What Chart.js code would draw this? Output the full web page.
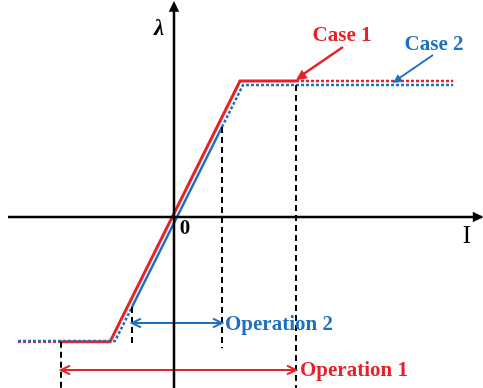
<!DOCTYPE html>
<html>
<head>
<meta charset="utf-8">
<script src="https://cdn.jsdelivr.net/npm/chart.js@4"></script>
<style>
  body { margin: 0; background: #fff; }
  #wrap { width: 483px; height: 388px; position: relative; }
</style>
</head>
<body>
<div id="wrap"><canvas id="myChart"></canvas></div>
<script>
// case 1 (red) : lambda vs I
const case1X = [-2.85, -1.6, 1.65, 3.05]
const case1Y = [-1.56, -1.56, 1.7, 1.7]
const case1DotX = [-3.9, -2.85]
const case1DotY = [-1.56, -1.56]
const case1DotX2 = [3.05, 6.98]
const case1DotY2 = [1.7, 1.7]

// case 2 (blue)
const case2X = [-1.05, 1.2]
const case2Y = [-1.125, 1.125]
const case2DotLowX = [-3.9, -1.475, -1.05]
const case2DotLowY = [-1.55, -1.55, -1.125]
const case2DotHighX = [1.2, 1.725, 6.98]
const case2DotHighY = [1.125, 1.65, 1.65]

// operating limits (dashed guides)
const guideX = [1.2, 3.05, -1.05, -2.825]
const guideTop = [1.125, 1.65, -1.125, -1.56]
const guideBottom = [-1.64, -2.14, -1.625, -2.14]

const op2Range = [-1.05, 1.2]
const op2Level = -1.325
const op1Range = [-2.825, 3.05]
const op1Level = -1.9125

const red = 'rgb(232, 32, 40)'
const blue = 'rgb(30, 112, 192)'

function pts(xs, ys) {
  return xs.map((x, i) => ({ x: x, y: ys[i] }))
}
function line(xs, ys, color, width, dash) {
  return {
    data: pts(xs, ys),
    borderColor: color,
    borderWidth: width,
    borderDash: dash || [],
    pointRadius: 0,
    showLine: true,
    tension: 0,
    fill: false
  }
}

const datasets = []
// axes
datasets.push(line([-4.15, 7.7], [0, 0], '#000', 2.5))
datasets.push(line([0, 0], [-2.14, 2.63], '#000', 2.5))
// guides
guideX.forEach((x, i) => {
  datasets.push(line([x, x], [guideTop[i], guideBottom[i]], '#000', 2, [6, 4]))
})
// arrows between guides
datasets.push(line(op2Range, [op2Level, op2Level], blue, 2))
datasets.push(line(op1Range, [op1Level, op1Level], red, 2))
// curves
datasets.push(line(case2DotLowX, case2DotLowY, blue, 2.5, [3, 2]))
datasets.push(line(case2DotHighX, case2DotHighY, blue, 2.5, [3, 2]))
datasets.push(line(case1DotX, case1DotY, red, 2.5, [3, 2]))
datasets.push(line(case1DotX2, case1DotY2, red, 2.5, [3, 2]))
datasets.push(line(case2X, case2Y, blue, 2.5))
datasets.push(line(case1X, case1Y, red, 3))
// pointer lines for labels
datasets.push(line([4.225, 3.1], [2.125, 1.74], red, 2.5))
datasets.push(line([6.475, 5.5], [2.025, 1.69], blue, 2))

function head(ctx, x1, y1, x2, y2, color, len, open) {
  const a = Math.atan2(y2 - y1, x2 - x1)
  ctx.save()
  ctx.strokeStyle = color
  ctx.fillStyle = color
  ctx.lineWidth = 2
  ctx.beginPath()
  ctx.moveTo(x2 - len * Math.cos(a - 0.45), y2 - len * Math.sin(a - 0.45))
  ctx.lineTo(x2, y2)
  ctx.lineTo(x2 - len * Math.cos(a + 0.45), y2 - len * Math.sin(a + 0.45))
  if (open) ctx.stroke()
  else { ctx.closePath(); ctx.fill() }
  ctx.restore()
}

const decor = {
  id: 'decor',
  afterDatasetsDraw(chart) {
    const ctx = chart.ctx
    const sx = chart.scales.x, sy = chart.scales.y
    const px = v => sx.getPixelForValue(v)
    const py = v => sy.getPixelForValue(v)
    // axis arrowheads
    head(ctx, px(6), py(0), px(7.74), py(0), '#000', 12)
    head(ctx, px(0), py(2), px(0), py(2.7), '#000', 12)
    // double arrows
    head(ctx, px(op2Range[1]), py(op2Level), px(op2Range[0]), py(op2Level), blue, 10, true)
    head(ctx, px(op2Range[0]), py(op2Level), px(op2Range[1]), py(op2Level), blue, 10, true)
    head(ctx, px(op1Range[1]), py(op1Level), px(op1Range[0]), py(op1Level), red, 10, true)
    head(ctx, px(op1Range[0]), py(op1Level), px(op1Range[1]), py(op1Level), red, 10, true)
    // label pointers
    head(ctx, px(4.225), py(2.125), px(3.05), py(1.71), red, 12)
    head(ctx, px(6.475), py(2.025), px(5.475), py(1.675), blue, 10)

    ctx.save()
    ctx.textBaseline = 'middle'
    ctx.font = 'bold 21px "Liberation Serif", serif'
    ctx.fillStyle = red
    ctx.textAlign = 'center'
    ctx.fillText('Case 1', 342, 36)
    ctx.fillStyle = blue
    ctx.fillText('Case 2', 434, 45)
    ctx.textAlign = 'left'
    ctx.fillText('Operation 2', 225, 325)
    ctx.fillStyle = red
    ctx.fillText('Operation 1', 300, 371)
    ctx.fillStyle = '#000'
    ctx.textAlign = 'center'
    ctx.font = 'italic bold 23px "Liberation Serif", serif'
    ctx.fillText('λ', 159, 29)
    ctx.font = 'bold 21px "Liberation Serif", serif'
    ctx.fillText('0', 185, 229)
    ctx.font = '25px "Liberation Serif", serif'
    ctx.fillText('I', 467, 236)
    ctx.restore()
  }
}

const config = {
  type: 'scatter',
  data: { datasets: datasets },
  options: {
    responsive: true,
    maintainAspectRatio: false,
    animation: false,
    layout: { padding: 0 },
    plugins: { legend: { display: false }, tooltip: { enabled: false } },
    scales: {
      x: { type: 'linear', min: -4.35, max: 7.725, display: false },
      y: { type: 'linear', min: -2.1375, max: 2.7125, display: false }
    }
  },
  plugins: [decor]
}
const myChart = new Chart(document.getElementById('myChart'), config)
</script>
</body>
</html>
